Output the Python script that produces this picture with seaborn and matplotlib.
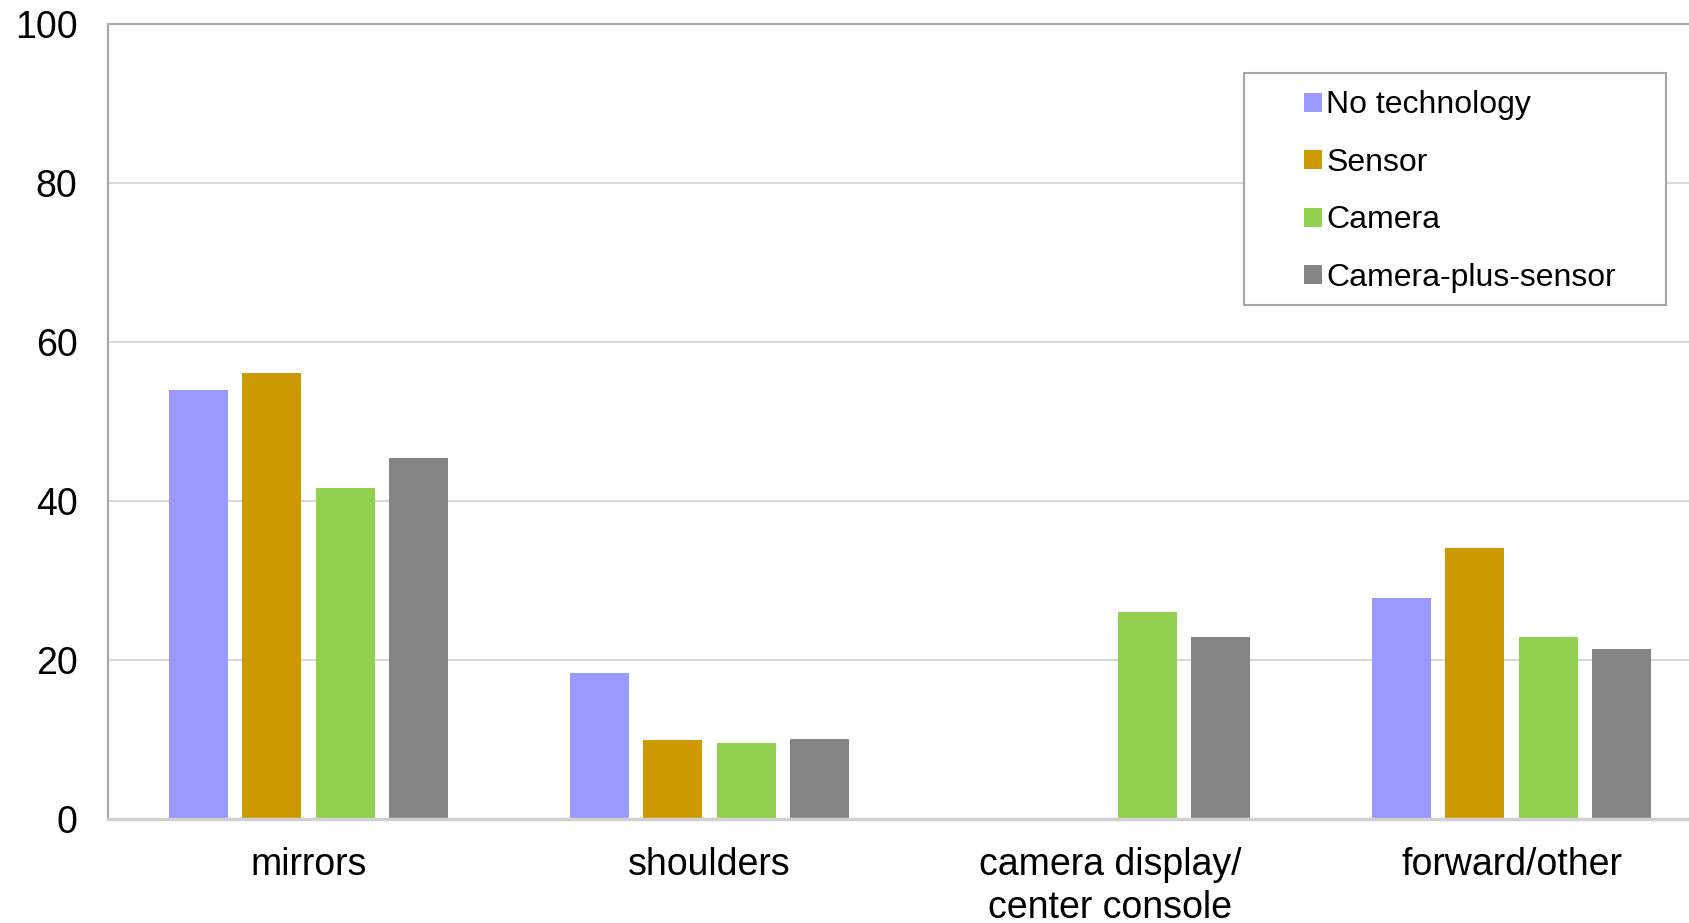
import matplotlib
matplotlib.use("Agg")
import matplotlib.pyplot as plt
from matplotlib.patches import Patch, Rectangle
import seaborn as sns
import pandas as pd

# Share of glances by location, per technology condition
categories = ["mirrors", "shoulders", "camera display/\ncenter console", "forward/other"]
series = ["No technology", "Sensor", "Camera", "Camera-plus-sensor"]
no_technology = [53.9, 18.4, 0.0, 27.8]
sensor = [56.1, 9.9, 0.0, 34.1]
camera = [41.6, 9.6, 26.0, 22.9]
camera_plus_sensor = [45.4, 10.0, 22.9, 21.4]
y_ticks = [0, 20, 40, 60, 80, 100]

colors = ["#9999FF", "#CC9900", "#92D050", "#848484"]

rows = []
for name, vals in zip(series, [no_technology, sensor, camera, camera_plus_sensor]):
    for cat, v in zip(categories, vals):
        rows.append({"location": cat, "condition": name, "percent": v})
df = pd.DataFrame(rows)

sns.set_theme(style="white")
plt.rcParams["font.family"] = ["Liberation Sans", "DejaVu Sans"]

W, H = 1690, 923
fig = plt.figure(figsize=(W / 100, H / 100), dpi=100)
ax = fig.add_axes([108 / W, 1 - 819 / H, 1604 / W, (819 - 23.7) / H])

sns.barplot(
    data=df, x="location", y="percent", hue="condition",
    order=categories, hue_order=series, palette=colors,
    width=0.731, gap=0.195, legend=False, ax=ax,
    saturation=1, linewidth=0, errorbar=None,
)

ax.set_ylim(0, 100)
ax.set_xlim(-0.5, 3.5)
ax.set_yticks(y_ticks)
ax.set_xlabel("")
ax.set_ylabel("")
ax.yaxis.grid(True, color="#D9D9D9", linewidth=1.5)
ax.set_axisbelow(True)
ax.tick_params(axis="y", length=0, pad=22, labelsize=27, labelcolor="black")
ax.tick_params(axis="x", length=0, pad=20, labelsize=27, labelcolor="black")
for lbl in ax.get_xticklabels():
    lbl.set_linespacing(1.25)

ax.spines["left"].set_color("#A6A6A6")
ax.spines["left"].set_linewidth(1.5)
ax.spines["top"].set_color("#A6A6A6")
ax.spines["top"].set_linewidth(1.5)
ax.spines["right"].set_visible(False)
ax.spines["bottom"].set_color("#D0D0D0")
ax.spines["bottom"].set_linewidth(2.5)

# Legend box with wide inner margins
box = Rectangle(
    (1244 / W, 1 - 305 / H), (1666 - 1244) / W, (305 - 73) / H,
    transform=fig.transFigure, facecolor="white", edgecolor="#A6A6A6",
    linewidth=1.5, zorder=1,
)
fig.patches.append(box)

handles = [Patch(facecolor=c, edgecolor="none", label=s) for c, s in zip(colors, series)]
leg = fig.legend(
    handles=handles, loc="upper left",
    bbox_to_anchor=(1304 / W, 1 - 90.5 / H),
    bbox_transform=fig.transFigure,
    fontsize=23, frameon=False,
    handlelength=0.55, handleheight=0.55, handletextpad=0.15,
    labelspacing=0.86, borderpad=0, borderaxespad=0,
)
leg.set_zorder(6)
for t in leg.get_texts():
    t.set_color("black")

fig.savefig("out.png", dpi=100)
